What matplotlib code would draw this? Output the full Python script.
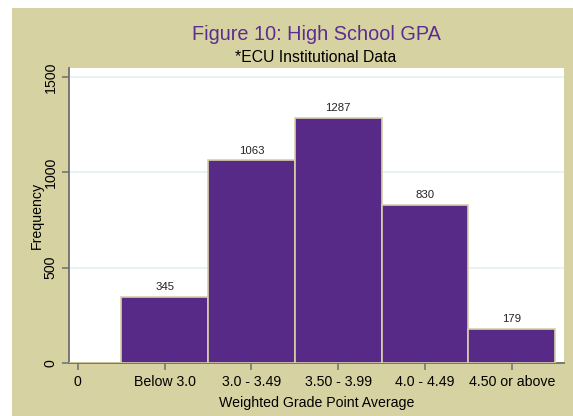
import matplotlib.pyplot as plt
from matplotlib.patches import Rectangle

# --- data ---
categorias = ['0', 'Below 3.0', '3.0 - 3.49', '3.50 - 3.99', '4.0 - 4.49', '4.50 or above']
frequencias = [0, 345, 1063, 1287, 830, 179]

plt.rcParams['font.family'] = ['Liberation Sans', 'DejaVu Sans']

fundo = '#d7d2a1'
roxo = '#582a87'

fig = plt.figure(figsize=(5.73, 4.16), dpi=100)
fig.patch.set_facecolor('white')
# faixa cáqui atrás de tudo
fig.add_artist(Rectangle((12 / 573, 0), 1, 408 / 416, transform=fig.transFigure,
                         facecolor=fundo, edgecolor='none', zorder=-10))

ax = fig.add_axes([69 / 573, 53 / 416, 495 / 573, 295 / 416])
ax.set_facecolor('white')

x = list(range(len(categorias)))
bars = ax.bar(x, frequencias, width=1.0, color=roxo, edgecolor='#d8d0a8', linewidth=1.2, zorder=3)

for bar, v in zip(bars, frequencias):
    if v > 0:
        ax.text(bar.get_x() + bar.get_width() / 2, v + 25, f'{v}',
                ha='center', va='bottom', fontsize=8.2, color='#222222')

ax.set_xlim(-0.1, 5.6)
ax.set_ylim(0, 1547)
ax.set_xticks(x)
ax.set_xticklabels(categorias, fontsize=10.2)
ax.set_yticks([0, 500, 1000, 1500])
ax.set_yticklabels(['0', '500', '1000', '1500'], fontsize=10.2, rotation=90, va='center')
ax.grid(axis='y', color='#e6eff1', linewidth=1.2, zorder=0)

for s in ['top', 'right']:
    ax.spines[s].set_visible(False)
for s in ['left', 'bottom']:
    ax.spines[s].set_color('#6e6e6e')
    ax.spines[s].set_linewidth(1.3)
ax.tick_params(direction='out', length=5, color='#6e6e6e', width=1.1)
ax.tick_params(axis='x', pad=4)
ax.tick_params(axis='y', pad=3)

ax.set_xlabel('Weighted Grade Point Average', fontsize=10.2, labelpad=5)
ax.set_ylabel('Frequency', fontsize=10.2)
ax.yaxis.set_label_coords(-0.05, 0.5)

fig.text(316 / 573, 1 - 35 / 416, 'Figure 10: High School GPA', ha='center', va='center',
         fontsize=14.3, color='#5c2d91')
fig.text(316 / 573, 1 - 58 / 416, '*ECU Institutional Data', ha='center', va='center',
         fontsize=11.3, color='black')

fig.savefig('out.png', dpi=100, facecolor=fig.get_facecolor())
